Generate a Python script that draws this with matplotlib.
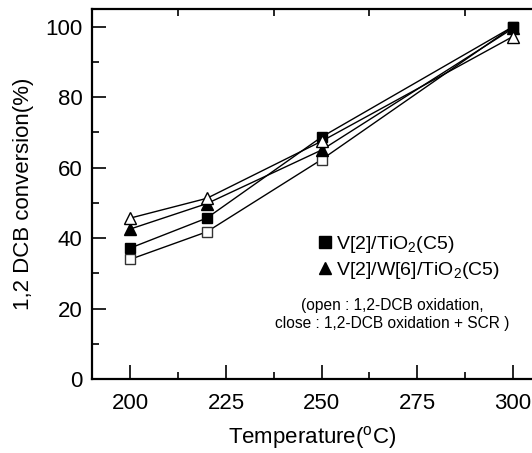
import matplotlib
matplotlib.use('Agg')
import matplotlib.pyplot as plt
from matplotlib.lines import Line2D
from matplotlib.ticker import MultipleLocator

plt.rcParams['font.family'] = ['Liberation Sans', 'DejaVu Sans']
plt.rcParams['mathtext.fontset'] = 'custom'
plt.rcParams['mathtext.rm'] = 'Liberation Sans'
plt.rcParams['mathtext.it'] = 'Liberation Sans:italic'

temps = [200, 220, 250, 300]

# V[2]/TiO2(C5)
v_open = [34.0, 41.8, 62.3, 100.0]     # 1,2-DCB oxidation
v_close = [37.2, 45.7, 68.7, 100.0]    # oxidation + SCR
# V[2]/W[6]/TiO2(C5)
vw_open = [45.7, 51.3, 67.5, 97.2]
vw_close = [42.6, 49.8, 65.0, 99.5]

legend_labels = [r'V[2]/TiO$_2$(C5)', r'V[2]/W[6]/TiO$_2$(C5)']
note = '(open : 1,2-DCB oxidation,\nclose : 1,2-DCB oxidation + SCR )'

fig = plt.figure(figsize=(5.32, 4.53), dpi=100)
ax = fig.add_axes([0.173, 0.163, 0.827, 0.817])

ax.plot(temps, v_open, '-s', color='black', lw=1, ms=7.5, mfc='white', mec='#333333', zorder=3)
ax.plot(temps, v_close, '-s', color='black', lw=1, ms=7.5, mfc='black', zorder=3)
ax.plot(temps, vw_close, '-^', color='black', lw=1, ms=9, mfc='black', zorder=4)
ax.plot(temps, vw_open, '-^', color='black', lw=1, ms=9, mfc='white', mec='black', zorder=4)

ax.set_xlim(190, 305)
ax.set_ylim(0, 105)
ax.xaxis.set_major_locator(MultipleLocator(25))
ax.xaxis.set_minor_locator(MultipleLocator(12.5))
ax.yaxis.set_major_locator(MultipleLocator(20))
ax.yaxis.set_minor_locator(MultipleLocator(10))
ax.tick_params(which='both', direction='in', right=False, width=1.2, labelsize=16)
ax.tick_params(which='major', length=10, top=False)
ax.tick_params(which='minor', length=5, top=True)
ax.tick_params(axis='x', which='major', pad=10)
ax.tick_params(axis='y', which='major', pad=7)
ax.spines['right'].set_visible(False)
for s in ['left', 'bottom', 'top']:
    ax.spines[s].set_linewidth(1.6)

ax.set_xlabel(r'Temperature($^{\mathrm{o}}$C)', fontsize=16, labelpad=7)
ax.set_ylabel('1,2 DCB conversion(%)', fontsize=16, labelpad=8)

handles = [Line2D([], [], ls='none', marker='s', ms=8, color='black'),
           Line2D([], [], ls='none', marker='^', ms=9, color='black')]
ax.legend(handles, legend_labels, loc='upper left', bbox_to_anchor=(0.47, 0.44),
          frameon=False, fontsize=14, handletextpad=0.1, handlelength=0.9, labelspacing=0.25)

ax.text(0.682, 0.176, note, transform=ax.transAxes, ha='center', va='center',
        fontsize=11.2, linespacing=1.25)

fig.savefig('out.png', dpi=100)
